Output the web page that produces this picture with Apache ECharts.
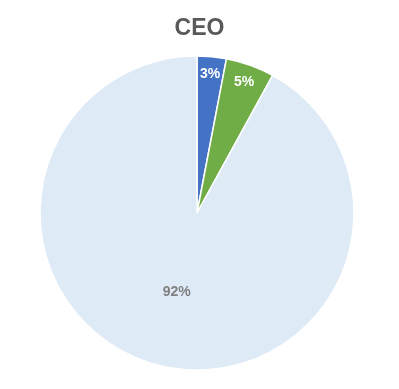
<!DOCTYPE html>
<html><head><meta charset="utf-8">
<script src="https://cdn.jsdelivr.net/npm/echarts@6/dist/echarts.min.js"></script>
<style>html,body{margin:0;padding:0;background:#fff}#c{width:399px;height:389px}</style>
</head><body><div id="c"></div>
<script>
const categories = ['A', 'B', 'C'];
const values = [3, 5, 92];
const colors = ['#4472C4', '#70AD47', '#DEEBF7'];
const title = 'CEO';

const chart = echarts.init(document.getElementById('c'));
const mainData = categories.map((c, i) => ({
  name: c, value: values[i], itemStyle: { color: colors[i] },
  label: { show: i === 2 }
}));
const labelData = categories.map((c, i) => ({
  name: c, value: values[i],
  label: { show: i !== 2 }
}));
chart.setOption({
  title: { text: title, left: 'center', top: 12,
    textStyle: { fontFamily: 'Liberation Sans, Arial', fontSize: 23, fontWeight: 'bold', color: '#595959' } },
  series: [{
    type: 'pie', center: [197, 213], radius: [0, 157], startAngle: 90, clockwise: true,
    animation: false, silent: true,
    itemStyle: { borderColor: '#fff', borderWidth: 1.5 },
    label: { position: 'inside', formatter: '{c}%', fontFamily: 'Liberation Sans, Arial',
      fontSize: 14, fontWeight: 'bold', color: '#7F7F7F' },
    labelLine: { show: false },
    data: mainData
  }, {
    type: 'pie', center: [197, 213], radius: [115, 157], startAngle: 90, clockwise: true,
    animation: false, silent: true,
    itemStyle: { color: 'rgba(0,0,0,0)', borderWidth: 0 },
    label: { position: 'inside', formatter: '{c}%', fontFamily: 'Liberation Sans, Arial',
      fontSize: 14, fontWeight: 'bold', color: '#fff' },
    labelLine: { show: false },
    data: labelData
  }]
});
</script></body></html>
